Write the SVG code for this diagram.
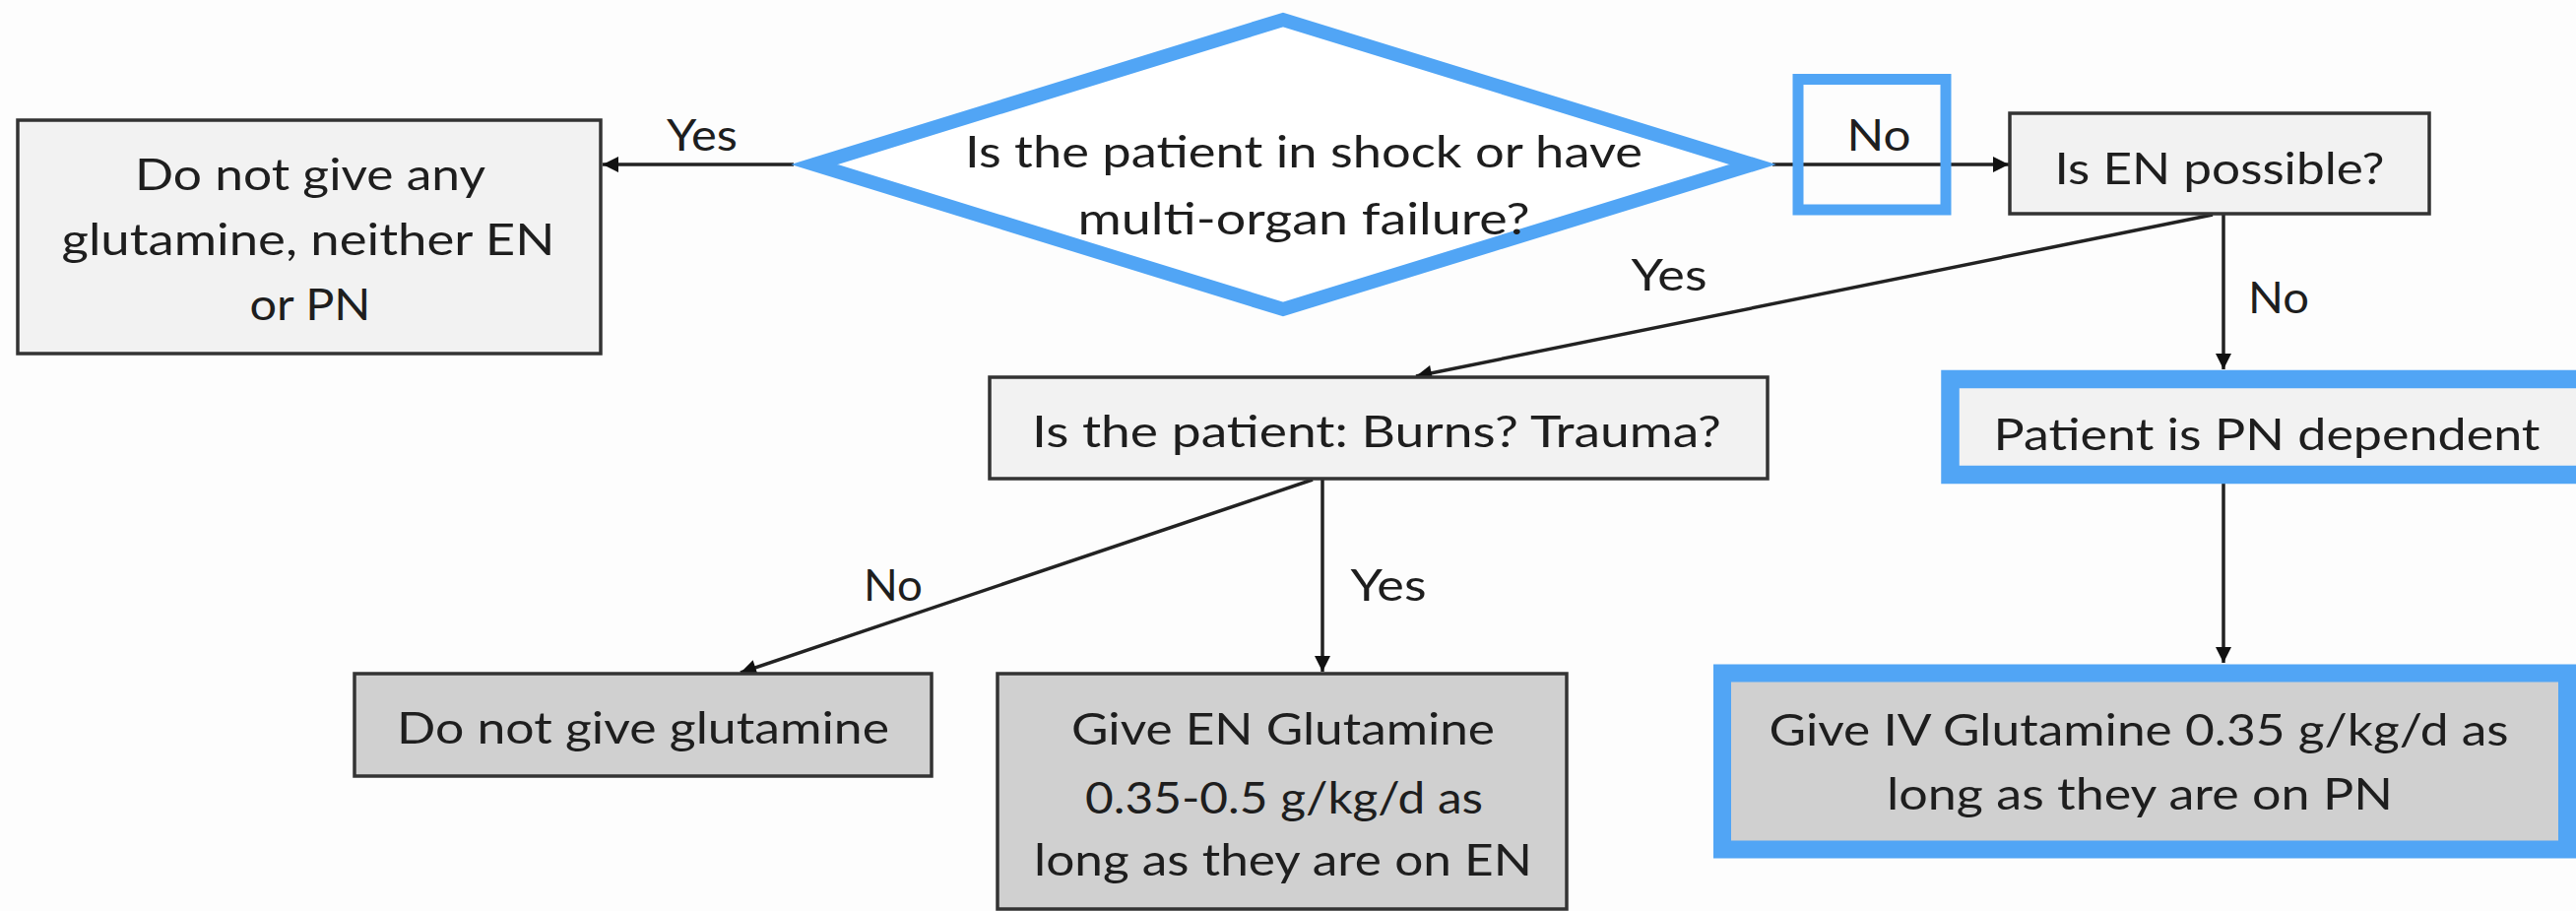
<svg xmlns="http://www.w3.org/2000/svg" width="2616" height="925" viewBox="0 0 2616 925">
<style>
.bg{fill:#fdfdfd}
.box{stroke:#333;stroke-width:3.5}
.light{fill:#f2f2f2}
.dark{fill:#d0d0d0}
.hl{fill:none;stroke:#51a5f5}
.t{font-family:Lato,"Open Sans","Liberation Sans",sans-serif;font-size:45px;fill:#1e1e1e;text-anchor:middle}
.c{fill:none;stroke:#222;stroke-width:3.5}
</style>
<defs>
<marker id="ah" viewBox="0 0 10 10" refX="10" refY="5" markerWidth="20" markerHeight="16" markerUnits="userSpaceOnUse" orient="auto">
<path d="M0,0 L10,5 L0,10 z" fill="#111"/>
</marker>
</defs>
<rect class="bg" x="0" y="0" width="2616" height="925"/>

<g id="connectors">
<path class="c" d="M806,167 L612,167" marker-end="url(#ah)"/>
<path class="c" d="M1800,167 L2040,167" marker-end="url(#ah)"/>
<path class="c" d="M2247,218 L1438,382" marker-end="url(#ah)"/>
<path class="c" d="M2258,218 L2258,375" marker-end="url(#ah)"/>
<path class="c" d="M2258,491 L2258,673" marker-end="url(#ah)"/>
<path class="c" d="M1343,487 L1343,682" marker-end="url(#ah)"/>
<path class="c" d="M1333,487 L752,683" marker-end="url(#ah)"/>
<text class="t" x="713" y="153" textLength="72" lengthAdjust="spacingAndGlyphs">Yes</text>
<text class="t" x="1908" y="153" textLength="65" lengthAdjust="spacingAndGlyphs">No</text>
<text class="t" x="1695" y="295" textLength="77" lengthAdjust="spacingAndGlyphs">Yes</text>
<text class="t" x="2314" y="318" textLength="62" lengthAdjust="spacingAndGlyphs">No</text>
<text class="t" x="907" y="610" textLength="60" lengthAdjust="spacingAndGlyphs">No</text>
<text class="t" x="1410" y="610" textLength="77" lengthAdjust="spacingAndGlyphs">Yes</text>
<rect class="hl" x="1826" y="80.5" width="150" height="132.5" stroke-width="11"/>
</g>

<g id="n-left">
<rect class="box light" x="18" y="122" width="592" height="237"/>
<text class="t" x="315" y="193" textLength="356" lengthAdjust="spacingAndGlyphs">Do not give any</text>
<text class="t" x="313" y="259" textLength="501" lengthAdjust="spacingAndGlyphs">glutamine, neither EN</text>
<text class="t" x="315" y="325" textLength="123" lengthAdjust="spacingAndGlyphs">or PN</text>
</g>

<g id="n-shock">
<polygon points="827,167 1303,20 1780,167 1303,314" fill="#ffffff" stroke="#51a5f5" stroke-width="14" stroke-linejoin="miter"/>
<text class="t" x="1324" y="170" textLength="688" lengthAdjust="spacingAndGlyphs">Is the patient in shock or have</text>
<text class="t" x="1324" y="238" textLength="459" lengthAdjust="spacingAndGlyphs">multi-organ failure?</text>
</g>

<g id="n-en">
<rect class="box light" x="2041" y="115" width="426" height="102"/>
<text class="t" x="2254" y="187" textLength="335" lengthAdjust="spacingAndGlyphs">Is EN possible?</text>
</g>

<g id="n-burns">
<rect class="box light" x="1005" y="383" width="790" height="103"/>
<text class="t" x="1398" y="454" textLength="700" lengthAdjust="spacingAndGlyphs">Is the patient: Burns? Trauma?</text>
</g>

<g id="n-pn">
<rect class="light" x="1980" y="385" width="650" height="97"/>
<rect class="hl" x="1980.5" y="385" width="645" height="97" stroke-width="18.5"/>
<text class="t" x="2302" y="457" textLength="555" lengthAdjust="spacingAndGlyphs">Patient is PN dependent</text>
</g>

<g id="n-noglut">
<rect class="box dark" x="360" y="684" width="586" height="104"/>
<text class="t" x="653" y="755" textLength="500" lengthAdjust="spacingAndGlyphs">Do not give glutamine</text>
</g>

<g id="n-engiv">
<rect class="box dark" x="1013" y="684" width="578" height="239"/>
<text class="t" x="1303" y="756" textLength="430" lengthAdjust="spacingAndGlyphs">Give EN Glutamine</text>
<text class="t" x="1304" y="826" textLength="404" lengthAdjust="spacingAndGlyphs">0.35-0.5 g/kg/d as</text>
<text class="t" x="1303" y="889" textLength="506" lengthAdjust="spacingAndGlyphs">long as they are on EN</text>
</g>

<g id="n-ivgiv">
<rect class="dark" x="1749" y="683.5" width="858" height="179"/>
<rect class="hl" x="1749" y="683.5" width="858" height="179" stroke-width="18"/>
<text class="t" x="2172" y="757" textLength="751" lengthAdjust="spacingAndGlyphs">Give IV Glutamine 0.35 g/kg/d as</text>
<text class="t" x="2173" y="822" textLength="514" lengthAdjust="spacingAndGlyphs">long as they are on PN</text>
</g>
</svg>
